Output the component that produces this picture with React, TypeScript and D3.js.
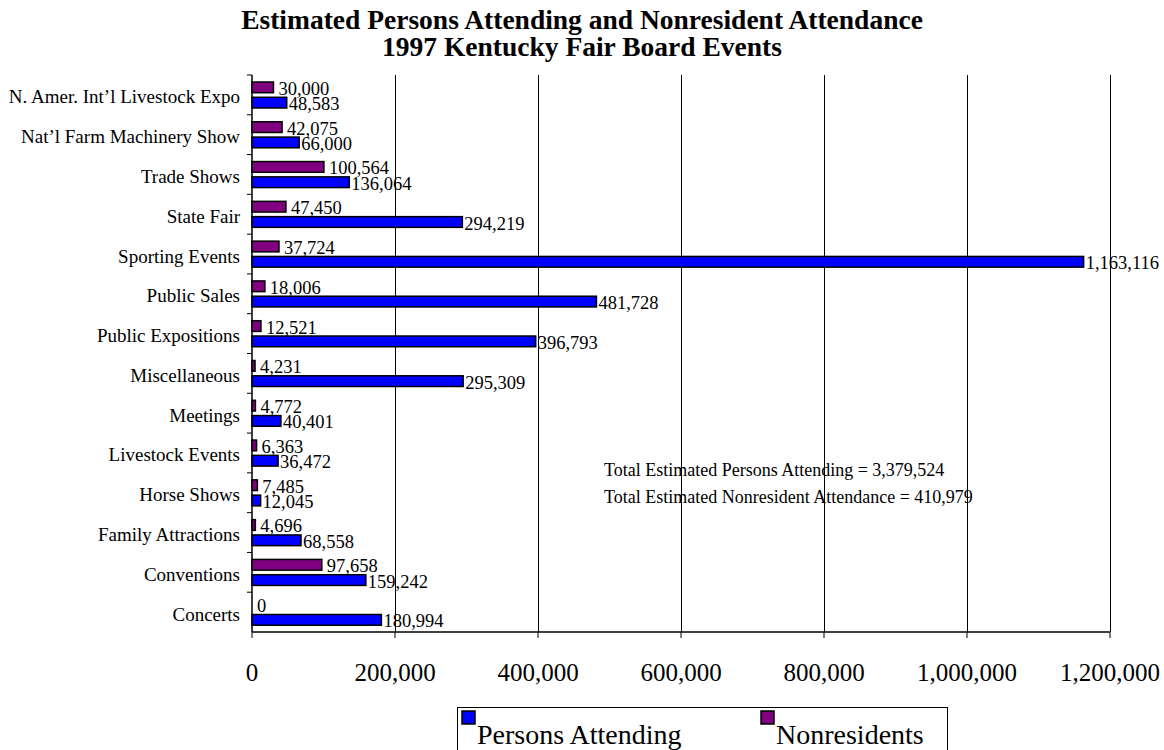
import React from "react";
import * as d3 from "d3";

const categories = [
  "N. Amer. Int\u2019l Livestock Expo",
  "Nat\u2019l Farm Machinery Show",
  "Trade Shows",
  "State Fair",
  "Sporting Events",
  "Public Sales",
  "Public Expositions",
  "Miscellaneous",
  "Meetings",
  "Livestock Events",
  "Horse Shows",
  "Family Attractions",
  "Conventions",
  "Concerts",
];
const personsAttending = [48583, 66000, 136064, 294219, 1163116, 481728, 396793, 295309, 40401, 36472, 12045, 68558, 159242, 180994];
const nonresidents = [30000, 42075, 100564, 47450, 37724, 18006, 12521, 4231, 4772, 6363, 7485, 4696, 97658, 0];
const xTicks = [0, 200000, 400000, 600000, 800000, 1000000, 1200000];
const titleLines = ["Estimated Persons Attending and Nonresident Attendance", "1997 Kentucky Fair Board Events"];
const notes = ["Total Estimated Persons Attending = 3,379,524", "Total Estimated Nonresident Attendance = 410,979"];
const seriesKeys = ["Nonresidents", "Persons Attending"];
const seriesColors = { "Persons Attending": "#0000FF", Nonresidents: "#800080" };

const W = 1164;
const H = 750;
const left = 252;
const right = 1110;
const top = 75;
const bottom = 632;
const font = "'Liberation Serif', 'Times New Roman', Times, serif";

export default function App() {
  const x = d3.scaleLinear().domain([0, 1200000]).range([left, right]);
  const y = d3.scaleBand<string>().domain(categories).range([top, bottom]).padding(0);
  const sub = d3.scaleBand<string>().domain(seriesKeys).range([7, 33]).paddingInner(0.3).paddingOuter(0);
  const fmt = d3.format(",");

  const rows = categories.map((c, i) => ({ c, p: personsAttending[i], n: nonresidents[i] }));

  return (
    <svg width={W} height={H} style={{ position: "absolute", left: 0, top: 0, background: "#fff" }} fontFamily={font}>
      {titleLines.map((t, i) => (
        <text key={t} x={582} y={29 + i * 27} textAnchor="middle" fontWeight="bold" fontSize={27.5} fontFamily={font}>
          {t}
        </text>
      ))}
      {/* gridlines */}
      {xTicks.slice(1).map((t) => (
        <line key={"g" + t} x1={x(t)} x2={x(t)} y1={top} y2={bottom} stroke="#000" strokeWidth={1} shapeRendering="crispEdges" />
      ))}
      {/* x axis */}
      <line x1={left} x2={right} y1={bottom} y2={bottom} stroke="#000" strokeWidth={1.5} />
      {xTicks.map((t) => (
        <g key={"t" + t}>
          <line x1={x(t)} x2={x(t)} y1={bottom} y2={bottom + 6} stroke="#000" strokeWidth={1} />
          <text x={x(t)} y={681} textAnchor="middle" fontSize={25} fontFamily={font}>
            {fmt(t)}
          </text>
        </g>
      ))}
      {/* y axis */}
      <line x1={left} x2={left} y1={top} y2={bottom} stroke="#000" strokeWidth={1.5} />
      {categories.map((c, i) => (
        <line key={"yt" + i} x1={left - 5} x2={left} y1={y(c)!} y2={y(c)!} stroke="#000" strokeWidth={1} />
      ))}
      {categories.map((c) => (
        <text key={"cl" + c} x={240} y={y(c)! + y.bandwidth() / 2 + 8.5} textAnchor="end" fontSize={19} fontFamily={font}>
          {c}
        </text>
      ))}
      {/* bars */}
      {rows.map((r) => {
        const b = y(r.c)!;
        const yn = b + sub("Nonresidents")!;
        const yp = b + sub("Persons Attending")!;
        const bw = sub.bandwidth();
        return (
          <g key={"b" + r.c}>
            <rect x={x(0)} y={yn} width={x(r.n) - x(0)} height={bw} fill={seriesColors.Nonresidents} stroke="#000" strokeWidth={1.5} />
            <rect x={x(0)} y={yp} width={x(r.p) - x(0)} height={bw} fill={seriesColors["Persons Attending"]} stroke="#000" strokeWidth={1.5} />
            <text x={x(r.n) + 5} y={yn + bw / 2 + 7.5} fontSize={18.5} fontFamily={font}>
              {fmt(r.n)}
            </text>
            <text x={x(r.p) + 2} y={yp + bw / 2 + 7.5} fontSize={18.5} fontFamily={font}>
              {fmt(r.p)}
            </text>
          </g>
        );
      })}
      {/* notes */}
      {notes.map((t, i) => (
        <text key={t} x={604} y={476 + i * 27} fontSize={18} fontFamily={font}>
          {t}
        </text>
      ))}
      {/* legend */}
      <rect x={457.5} y={707.5} width={490} height={60} fill="#fff" stroke="#000" strokeWidth={1} />
      <rect x={462} y={711} width={13} height={13} fill={seriesColors["Persons Attending"]} stroke="#000" strokeWidth={1.5} />
      <text x={477} y={744} fontSize={28} fontFamily={font}>Persons Attending</text>
      <rect x={761} y={711} width={13} height={13} fill={seriesColors.Nonresidents} stroke="#000" strokeWidth={1.5} />
      <text x={776} y={744} fontSize={28} fontFamily={font}>Nonresidents</text>
    </svg>
  );
}
